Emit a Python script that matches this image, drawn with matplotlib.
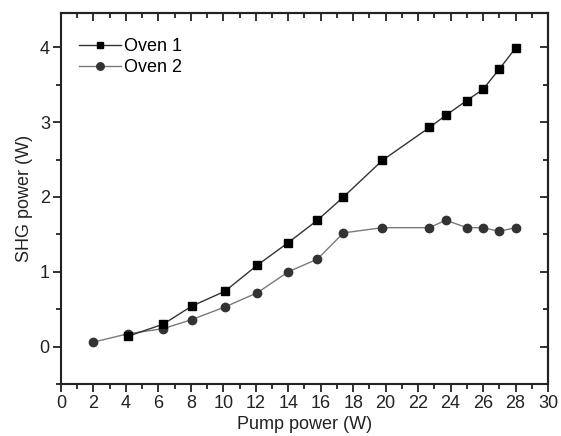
import matplotlib.pyplot as plt
from matplotlib.ticker import MultipleLocator

plt.rcParams['font.family'] = ['Liberation Sans', 'DejaVu Sans']

# data
pump1 = [4.15, 6.3, 8.05, 10.1, 12.1, 14.0, 15.8, 17.4, 19.8, 22.7, 23.7, 25.0, 26.0, 27.0, 28.0]
oven1 = [0.14, 0.30, 0.54, 0.74, 1.09, 1.39, 1.69, 2.0, 2.49, 2.93, 3.09, 3.29, 3.44, 3.71, 3.99]
pump2 = [2.0, 4.1, 6.3, 8.05, 10.1, 12.1, 14.0, 15.8, 17.4, 19.8, 22.7, 23.7, 25.0, 26.0, 27.0, 28.0]
oven2 = [0.06, 0.17, 0.24, 0.36, 0.53, 0.72, 1.0, 1.17, 1.52, 1.59, 1.59, 1.69, 1.59, 1.59, 1.54, 1.59]

fig = plt.figure(figsize=(5.61, 4.36), dpi=100)
ax = fig.add_axes([0.1087, 0.1193, 0.8681, 0.8509])

ax.plot(pump2, oven2, '-o', color='#7a7a7a', lw=1.0, ms=6,
        mfc='#333333', mec='#333333', label='Oven 2', zorder=2)
ax.plot(pump1, oven1, '-s', color='#333333', lw=1.0, ms=5.5,
        mfc='black', mec='black', label='Oven 1', zorder=3)

ax.set_xlim(0, 30)
ax.set_ylim(-0.5, 4.46)
ax.xaxis.set_major_locator(MultipleLocator(2))
ax.xaxis.set_minor_locator(MultipleLocator(1))
ax.yaxis.set_major_locator(MultipleLocator(1))
ax.yaxis.set_minor_locator(MultipleLocator(0.5))
ax.tick_params(which='both', direction='out', width=1.3, labelsize=13, colors='#222222', pad=2)
ax.tick_params(which='major', length=6)
ax.tick_params(which='minor', length=3.5)

for s in ax.spines.values():
    s.set_linewidth(1.5)
    s.set_color('#222222')

top = ax.secondary_xaxis('top')
top.xaxis.set_major_locator(MultipleLocator(2))
top.xaxis.set_minor_locator(MultipleLocator(1))
top.tick_params(which='both', direction='in', width=1.3, labeltop=False, colors='#222222')
top.tick_params(which='major', length=6)
top.tick_params(which='minor', length=3.5)
top.spines['top'].set_linewidth(1.5)

right = ax.secondary_yaxis('right')
right.yaxis.set_major_locator(MultipleLocator(1))
right.yaxis.set_minor_locator(MultipleLocator(0.5))
right.tick_params(which='both', direction='in', width=1.3, labelright=False, colors='#222222')
right.tick_params(which='major', length=6)
right.tick_params(which='minor', length=3.5)
right.spines['right'].set_linewidth(1.5)

ax.set_xlabel('Pump power (W)', fontsize=13, labelpad=3, color='#222222')
ax.set_ylabel('SHG power (W)', fontsize=13, labelpad=5, color='#222222')

h, l = ax.get_legend_handles_labels()
leg = ax.legend(h[::-1], l[::-1], loc='upper left', bbox_to_anchor=(0.0, 0.98),
                frameon=False, fontsize=13, markerscale=0.9, handlelength=2.3,
                handletextpad=0.2, labelspacing=0.2, borderaxespad=0.6)

fig.savefig('out.png', dpi=100)
